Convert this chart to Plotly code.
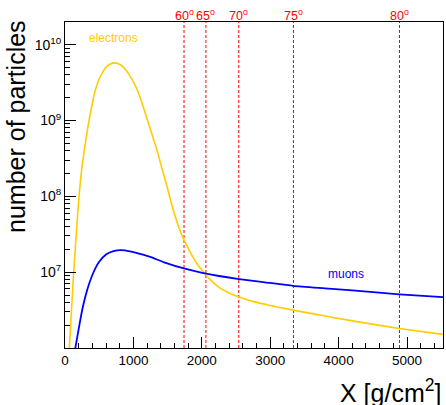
import plotly.graph_objects as go

# ---- data ----
electron_x = [55, 63, 95, 127, 165, 205, 250, 300, 341, 385, 443, 500, 551, 620, 712, 780, 850, 920,
              994, 1063, 1140, 1200, 1257, 1350, 1420, 1496, 1560, 1627, 1700, 1780, 1837, 1930,
              2032, 2140, 2251, 2400, 2544, 2650, 2760, 2982, 3338, 3650, 3957, 4400, 4887, 5526]
electron_y = [7.5e5, 1.0e6, 3.2e6, 1.0e7, 3.2e7, 1.0e8, 2.5e8, 5.2e8, 8.9e8, 1.45e9, 2.5e9, 3.55e9,
              4.35e9, 5.25e9, 5.75e9, 5.6e9, 5.1e9, 4.25e9, 3.3e9, 2.45e9, 1.55e9, 1.05e9, 7.2e8,
              3.9e8, 2.3e8, 1.3e8, 7.8e7, 4.9e7, 3.2e7, 2.25e7, 1.78e7, 1.29e7, 9.8e6, 7.67e6,
              6.31e6, 5.31e6, 4.70e6, 4.37e6, 4.09e6, 3.67e6, 3.16e6, 2.80e6, 2.49e6, 2.13e6,
              1.81e6, 1.51e6]

muon_x = [145, 151, 190, 224, 263, 326, 409, 497, 604, 710, 823, 950, 1140, 1257, 1450, 1740, 2007,
          2251, 2544, 2900, 3338, 3800, 4200, 4887, 5526]
muon_y = [9.3e5, 1.0e6, 1.58e6, 2.35e6, 3.55e6, 5.9e6, 9.6e6, 1.36e7, 1.72e7, 1.9e7, 1.95e7, 1.88e7,
          1.7e7, 1.575e7, 1.35e7, 1.12e7, 9.8e6, 8.9e6, 8.1e6, 7.4e6, 6.6e6, 6.12e6, 5.74e6, 5.1e6,
          4.7e6]

angle_x = [1740, 2060, 2540, 3340, 4890]
angle_labels = ["60", "65", "70", "75", "80"]

x_ticks = [0, 1000, 2000, 3000, 4000, 5000]
y_ticks = [1e7, 1e8, 1e9, 1e10]
y_ticktext = ["10<sup>7</sup>", "10<sup>8</sup>", "10<sup>9</sup>", "10<sup>10</sup>"]

FONT = "Liberation Sans, Arial, Helvetica, sans-serif"
GOLD = "rgb(255,204,0)"
BLUE = "rgb(0,0,255)"
RED = "rgb(255,0,0)"
Y_RANGE = [6, 10.299]

fig = go.Figure()
for ax in angle_x:
    fig.add_trace(go.Scatter(x=[ax, ax], y=[10 ** Y_RANGE[0], 10 ** Y_RANGE[1]], mode="lines",
                             line=dict(color=RED, width=1, dash="3px,2px"),
                             showlegend=False, hoverinfo="skip"))
fig.add_trace(go.Scatter(x=electron_x, y=electron_y, mode="lines",
                         line=dict(color=GOLD, width=1.6, shape="spline", smoothing=0.6),
                         showlegend=False, hoverinfo="skip"))
fig.add_trace(go.Scatter(x=muon_x, y=muon_y, mode="lines",
                         line=dict(color=BLUE, width=1.8, shape="spline", smoothing=0.6),
                         showlegend=False, hoverinfo="skip"))

annotations = []
for ax, lab in zip(angle_x, angle_labels):
    annotations.append(dict(xref="x", yref="paper", x=ax, y=1.0215, showarrow=False,
                            text=lab + "<sup>o</sup>", xanchor="center", yanchor="middle",
                            font=dict(family=FONT, size=12.5, color=RED)))

annotations += [
    dict(xref="paper", yref="paper", x=-0.1296, y=0.678, text="number of particles",
         textangle=-90, showarrow=False, xanchor="center", yanchor="middle",
         font=dict(family=FONT, size=25, color="black")),
    dict(xref="paper", yref="paper", x=1.0, y=-0.132, text="X [g/cm<sup>2</sup>]",
         showarrow=False, xanchor="right", yanchor="middle",
         font=dict(family=FONT, size=25, color="black")),
    dict(xref="paper", yref="paper", x=0.128, y=0.951, text="electrons", showarrow=False,
         xanchor="center", yanchor="middle", font=dict(family=FONT, size=12, color=GOLD)),
    dict(xref="paper", yref="paper", x=0.7426, y=0.226, text="muons", showarrow=False,
         xanchor="center", yanchor="middle", font=dict(family=FONT, size=12, color=BLUE)),
]

minor_y = [k * 10 ** n for n in range(6, 11) for k in range(2, 10)]

fig.update_layout(
    width=446, height=405,
    margin=dict(l=65, r=3, t=22, b=57, autoexpand=False),
    paper_bgcolor="white", plot_bgcolor="white",
    annotations=annotations,
    font=dict(family=FONT, color="black"),
    xaxis=dict(range=[0, 5526], tickvals=x_ticks, ticks="inside", ticklen=11, tickwidth=1,
               tickcolor="black", showgrid=False, zeroline=False, showline=True,
               linecolor="black", linewidth=1, mirror=True, automargin=False,
               tickfont=dict(family=FONT, size=13.5, color="black"),
               minor=dict(ticks="inside", ticklen=5, dtick=200, tickcolor="black", showgrid=False)),
    yaxis=dict(type="log", range=Y_RANGE, tickvals=y_ticks, ticktext=y_ticktext,
               ticks="inside", ticklen=11, tickwidth=1, tickcolor="black", showgrid=False,
               zeroline=False, showline=True, linecolor="black", linewidth=1, mirror=True,
               automargin=False,
               tickfont=dict(family=FONT, size=14, color="black"),
               minor=dict(ticks="inside", ticklen=5, tickvals=minor_y, tickcolor="black",
                          showgrid=False)),
)

fig.write_html("out.html", config={"displayModeBar": False},
               post_script="document.body.style.margin='0';document.body.style.overflow='hidden';")
